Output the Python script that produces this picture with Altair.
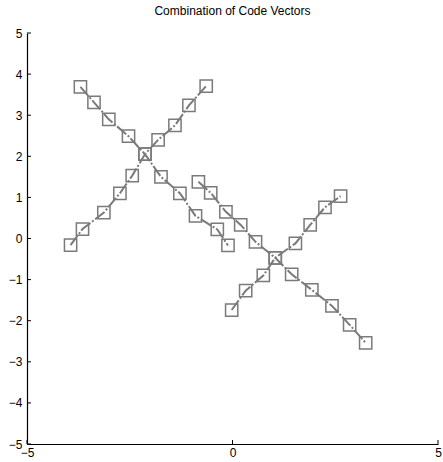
import altair as alt
import pandas as pd

# Line 1: descending diagonal of left cross
x1 = [-3.70, -3.37, -3.01, -2.53, -2.13, -1.74, -1.28, -0.90, -0.37, -0.11]
y1 = [3.69, 3.31, 2.90, 2.49, 2.05, 1.50, 1.10, 0.55, 0.22, -0.17]
# Line 2: ascending diagonal of left cross
x2 = [-3.94, -3.65, -3.13, -2.74, -2.44, -2.13, -1.81, -1.40, -1.06, -0.64]
y2 = [-0.16, 0.23, 0.63, 1.10, 1.53, 2.05, 2.40, 2.75, 3.24, 3.71]
# Line 3: descending diagonal of right cross
x3 = [-0.83, -0.53, -0.16, 0.20, 0.56, 1.04, 1.44, 1.93, 2.42, 2.85, 3.24]
y3 = [1.38, 1.11, 0.65, 0.33, -0.08, -0.47, -0.87, -1.25, -1.64, -2.10, -2.54]
# Line 4: ascending diagonal of right cross
x4 = [-0.02, 0.32, 0.75, 1.04, 1.53, 1.89, 2.25, 2.63]
y4 = [-1.74, -1.27, -0.90, -0.47, -0.12, 0.33, 0.76, 1.03]

ticks = [-5, -4, -3, -2, -1, 0, 1, 2, 3, 4, 5]
xticks = [-5, 0, 5]

rows = []
for sid, (xs, ys) in enumerate([(x1, y1), (x2, y2), (x3, y3), (x4, y4)]):
    for i, (a, b) in enumerate(zip(xs, ys)):
        rows.append({"s": sid, "o": i, "x": a, "y": b})
df = pd.DataFrame(rows)

W, H = 411, 411
FONT = "Liberation Sans"
GRAY = "#7a7a7a"

xs = alt.Scale(domain=[-5, 5], nice=False, zero=False)
ys = alt.Scale(domain=[-5, 5], nice=False, zero=False)

base = alt.Chart(df)

lines = base.mark_line(color=GRAY, strokeWidth=2, strokeDash=[12, 2, 2, 2]).encode(
    x=alt.X("x:Q", scale=xs,
            axis=alt.Axis(values=xticks, grid=False, domainColor="black", domainWidth=1.2,
                          tickSize=0, labelPadding=3, labelFontSize=12, labelFont=FONT,
                          labelColor="black", title=None, labelFlush=False)),
    y=alt.Y("y:Q", scale=ys,
            axis=alt.Axis(values=ticks, grid=False, domainColor="black", domainWidth=1.2,
                          tickSize=0, labelPadding=5, labelFontSize=12, labelFont=FONT,
                          labelColor="black", title=None, labelFlush=False)),
    detail="s:N",
    order="o:Q",
)

pts = base.mark_point(shape="square", size=150, filled=False, color=GRAY, strokeWidth=1.5, opacity=1).encode(
    x=alt.X("x:Q", scale=xs),
    y=alt.Y("y:Q", scale=ys),
)

ytick_df = pd.DataFrame({"v": ticks})
xtick_df = pd.DataFrame({"v": xticks})

ytk = alt.Chart(ytick_df).mark_rule(color="black", strokeWidth=1).encode(
    y=alt.Y("v:Q", scale=ys),
    x=alt.value(0),
    x2=alt.value(4),
)
xtk = alt.Chart(xtick_df).mark_rule(color="black", strokeWidth=1).encode(
    x=alt.X("v:Q", scale=xs),
    y=alt.value(H),
    y2=alt.value(H - 4),
)

chart = alt.layer(lines, pts, ytk, xtk).properties(
    width=W,
    height=H,
    background="white",
    title=alt.TitleParams("Combination of Code Vectors", fontSize=12, font=FONT,
                          fontWeight="normal", color="black", offset=9, anchor="middle"),
    autosize=alt.AutoSizeParams(type="none"),
    padding={"left": 27, "top": 33, "right": 5, "bottom": 18},
).configure_view(stroke=None, strokeWidth=0)

chart.save("out.html", embed_options={"renderer": "svg", "actions": False})
